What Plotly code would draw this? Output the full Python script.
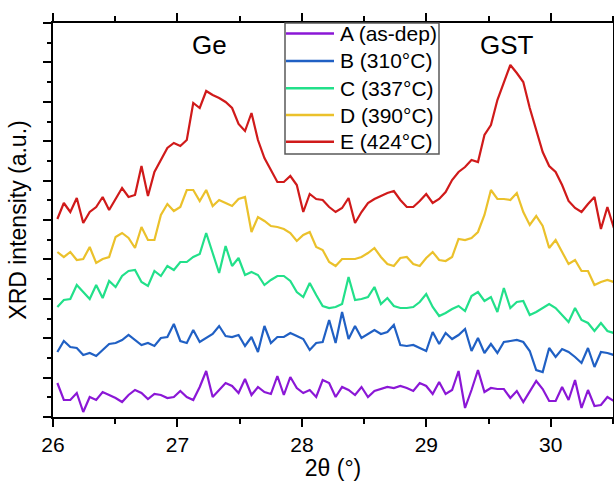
import plotly.graph_objects as go

two_theta = [26.035, 26.087, 26.139, 26.191, 26.243, 26.295, 26.347, 26.399, 26.451, 26.503,
             26.555, 26.607, 26.659, 26.711, 26.763, 26.815, 26.867, 26.919, 26.971, 27.023,
             27.075, 27.127, 27.179, 27.231, 27.283, 27.335, 27.387, 27.439, 27.491, 27.543,
             27.595, 27.647, 27.699, 27.751, 27.803, 27.855, 27.907, 27.959, 28.011, 28.063,
             28.115, 28.167, 28.219, 28.271, 28.323, 28.375, 28.427, 28.479, 28.531, 28.583,
             28.635, 28.687, 28.739, 28.791, 28.843, 28.895, 28.947, 28.999, 29.051, 29.103,
             29.155, 29.207, 29.259, 29.311, 29.363, 29.415, 29.467, 29.519, 29.571, 29.623,
             29.675, 29.727, 29.779, 29.831, 29.883, 29.935, 29.987, 30.039, 30.091, 30.143,
             30.195, 30.247, 30.299, 30.351, 30.403, 30.455, 30.507]

int_A = [34, 17, 17, 24, 5, 20, 17, 25, 22, 19,
         15, 22, 27, 24, 18, 23, 22, 19, 20, 26,
         20, 17, 30, 46, 20, 27, 34, 31, 24, 38,
         22, 30, 25, 23, 41, 22, 40, 29, 24, 27,
         20, 37, 34, 20, 30, 27, 22, 30, 20, 26,
         28, 30, 29, 31, 29, 26, 34, 31, 23, 35,
         23, 27, 46, 9, 27, 47, 25, 29, 28, 28,
         19, 26, 15, 25, 36, 28, 16, 16, 30, 17,
         37, 9, 27, 11, 12, 20, 16]

int_B = [65, 76, 70, 69, 62, 64, 61, 67, 73, 74,
         77, 82, 77, 72, 74, 71, 79, 80, 93, 76,
         74, 87, 75, 79, 83, 91, 81, 80, 82, 71,
         80, 65, 91, 74, 80, 80, 84, 81, 78, 67,
         74, 75, 97, 74, 105, 78, 91, 79, 83, 87,
         83, 85, 92, 72, 71, 72, 69, 66, 85, 73,
         84, 78, 82, 88, 66, 79, 64, 73, 64, 75,
         76, 77, 75, 66, 47, 45, 69, 60, 68, 65,
         60, 54, 69, 50, 65, 64, 62]

int_C = [110, 117, 118, 132, 125, 118, 132, 119, 136, 130,
         141, 146, 147, 135, 131, 146, 141, 151, 147, 155,
         155, 160, 163, 184, 164, 144, 171, 151, 159, 142,
         145, 142, 132, 137, 141, 141, 136, 125, 120, 134,
         122, 111, 109, 110, 113, 140, 117, 118, 120, 130,
         113, 119, 111, 109, 109, 110, 115, 123, 110, 101,
         104, 108, 111, 106, 121, 125, 116, 120, 105, 129,
         109, 115, 116, 102, 105, 109, 113, 109, 102, 95,
         109, 97, 94, 86, 94, 86, 84]

int_D = [165, 160, 165, 157, 158, 170, 154, 158, 160, 180,
         184, 179, 169, 190, 177, 177, 202, 213, 206, 210,
         227, 227, 216, 227, 211, 217, 214, 211, 218, 220,
         185, 200, 196, 191, 190, 188, 184, 176, 182, 185,
         170, 167, 155, 151, 158, 158, 158, 160, 164, 169,
         160, 153, 151, 159, 160, 153, 151, 159, 165, 157,
         156, 160, 178, 177, 179, 185, 202, 227, 218, 218,
         217, 224, 205, 192, 201, 191, 169, 177, 165, 153,
         157, 146, 146, 132, 135, 137, 135]

int_E = [198, 214, 205, 219, 194, 205, 210, 220, 207, 218,
         229, 220, 222, 251, 221, 245, 257, 269, 274, 271,
         277, 314, 309, 326, 322, 319, 315, 309, 293, 286,
         304, 277, 259, 247, 235, 235, 241, 232, 205, 223,
         218, 217, 210, 205, 209, 219, 194, 205, 214, 218,
         221, 224, 226, 217, 210, 210, 216, 223, 214, 218,
         225, 237, 245, 250, 257, 255, 282, 292, 317, 334,
         352, 344, 335, 309, 287, 265, 251, 245, 232, 216,
         209, 205, 213, 220, 188, 210, 189]

labels = ["A (as-dep)", "B (310°C)", "C (337°C)", "D (390°C)", "E (424°C)"]
colors = ["#8B17D6", "#2060C4", "#22E08A", "#EBC12B", "#D01A1A"]
series = [int_A, int_B, int_C, int_D, int_E]

peak_names = ["Ge", "GST"]
peak_pos = [27.26, 29.65]
peak_label_y = 372

x_ticks = [26, 27, 28, 29, 30]

FONT = "Liberation Sans, Arial, sans-serif"

# figure geometry (pixels)
W, H = 614, 481
ML, MR, MT, MB = 53, 1, 23, 64
PW, PH = W - ML - MR, H - MT - MB


def px_to_paper_x(px):
    return (px - ML) / PW


def px_to_paper_y(py):
    return (H - MB - py) / PH


fig = go.Figure()
for lab, col, ys in zip(labels, colors, series):
    fig.add_trace(go.Scatter(
        x=two_theta, y=ys, mode="lines", name=lab,
        line=dict(color=col, width=2.2),
        showlegend=False,
    ))

for name, pos in zip(peak_names, peak_pos):
    fig.add_annotation(x=pos, y=peak_label_y, text=name, showarrow=False,
                       font=dict(size=26, color="black", family=FONT),
                       xanchor="center", yanchor="middle")

# legend box drawn as shapes + text
shapes = [dict(type="rect", xref="paper", yref="paper",
               x0=px_to_paper_x(285), x1=px_to_paper_x(439),
               y0=px_to_paper_y(154), y1=1.0,
               line=dict(color="#5a5a5a", width=1.5), fillcolor="white", layer="above")]
entry_y = [33.5, 61, 88.3, 115, 141.7]
for lab, col, py in zip(labels, colors, entry_y):
    shapes.append(dict(type="line", xref="paper", yref="paper",
                       x0=px_to_paper_x(286), x1=px_to_paper_x(334),
                       y0=px_to_paper_y(py), y1=px_to_paper_y(py),
                       line=dict(color=col, width=2.4), layer="above"))
    fig.add_annotation(xref="paper", yref="paper", x=px_to_paper_x(338), y=px_to_paper_y(py),
                       text=lab, showarrow=False, xanchor="left", yanchor="middle",
                       font=dict(size=21, family=FONT, color="black"))

fig.update_layout(
    width=W, height=H,
    margin=dict(l=ML, r=MR, t=MT, b=MB),
    paper_bgcolor="white", plot_bgcolor="white",
    font=dict(family=FONT, color="black"),
    showlegend=False,
    shapes=shapes,
)

fig.update_xaxes(
    range=[26, 30.5], tickvals=x_ticks, ticktext=[str(v) for v in x_ticks],
    ticks="outside", ticklen=8, tickwidth=2, tickcolor="black",
    minor=dict(dtick=0.5, tick0=26, ticks="outside", ticklen=5, tickwidth=2, tickcolor="black"),
    showline=True, linewidth=2, linecolor="black", mirror="ticks",
    showgrid=False, zeroline=False,
    tickfont=dict(size=21, family=FONT, color="black"),
    title=dict(text="2θ (°)", font=dict(size=23, family=FONT, color="black"), standoff=4),
)
fig.update_yaxes(
    range=[0, 394], tick0=0, dtick=39.4, showticklabels=False,
    ticks="outside", ticklen=8, tickwidth=2, tickcolor="black",
    minor=dict(dtick=19.7, tick0=0, ticks="outside", ticklen=4, tickwidth=2, tickcolor="black"),
    showline=True, linewidth=2, linecolor="black", mirror=True,
    showgrid=False, zeroline=False,
    title=dict(text="XRD intensity (a.u.)", font=dict(size=23, family=FONT, color="black"), standoff=10),
    automargin=False,
)

fig.write_html("out.html")
